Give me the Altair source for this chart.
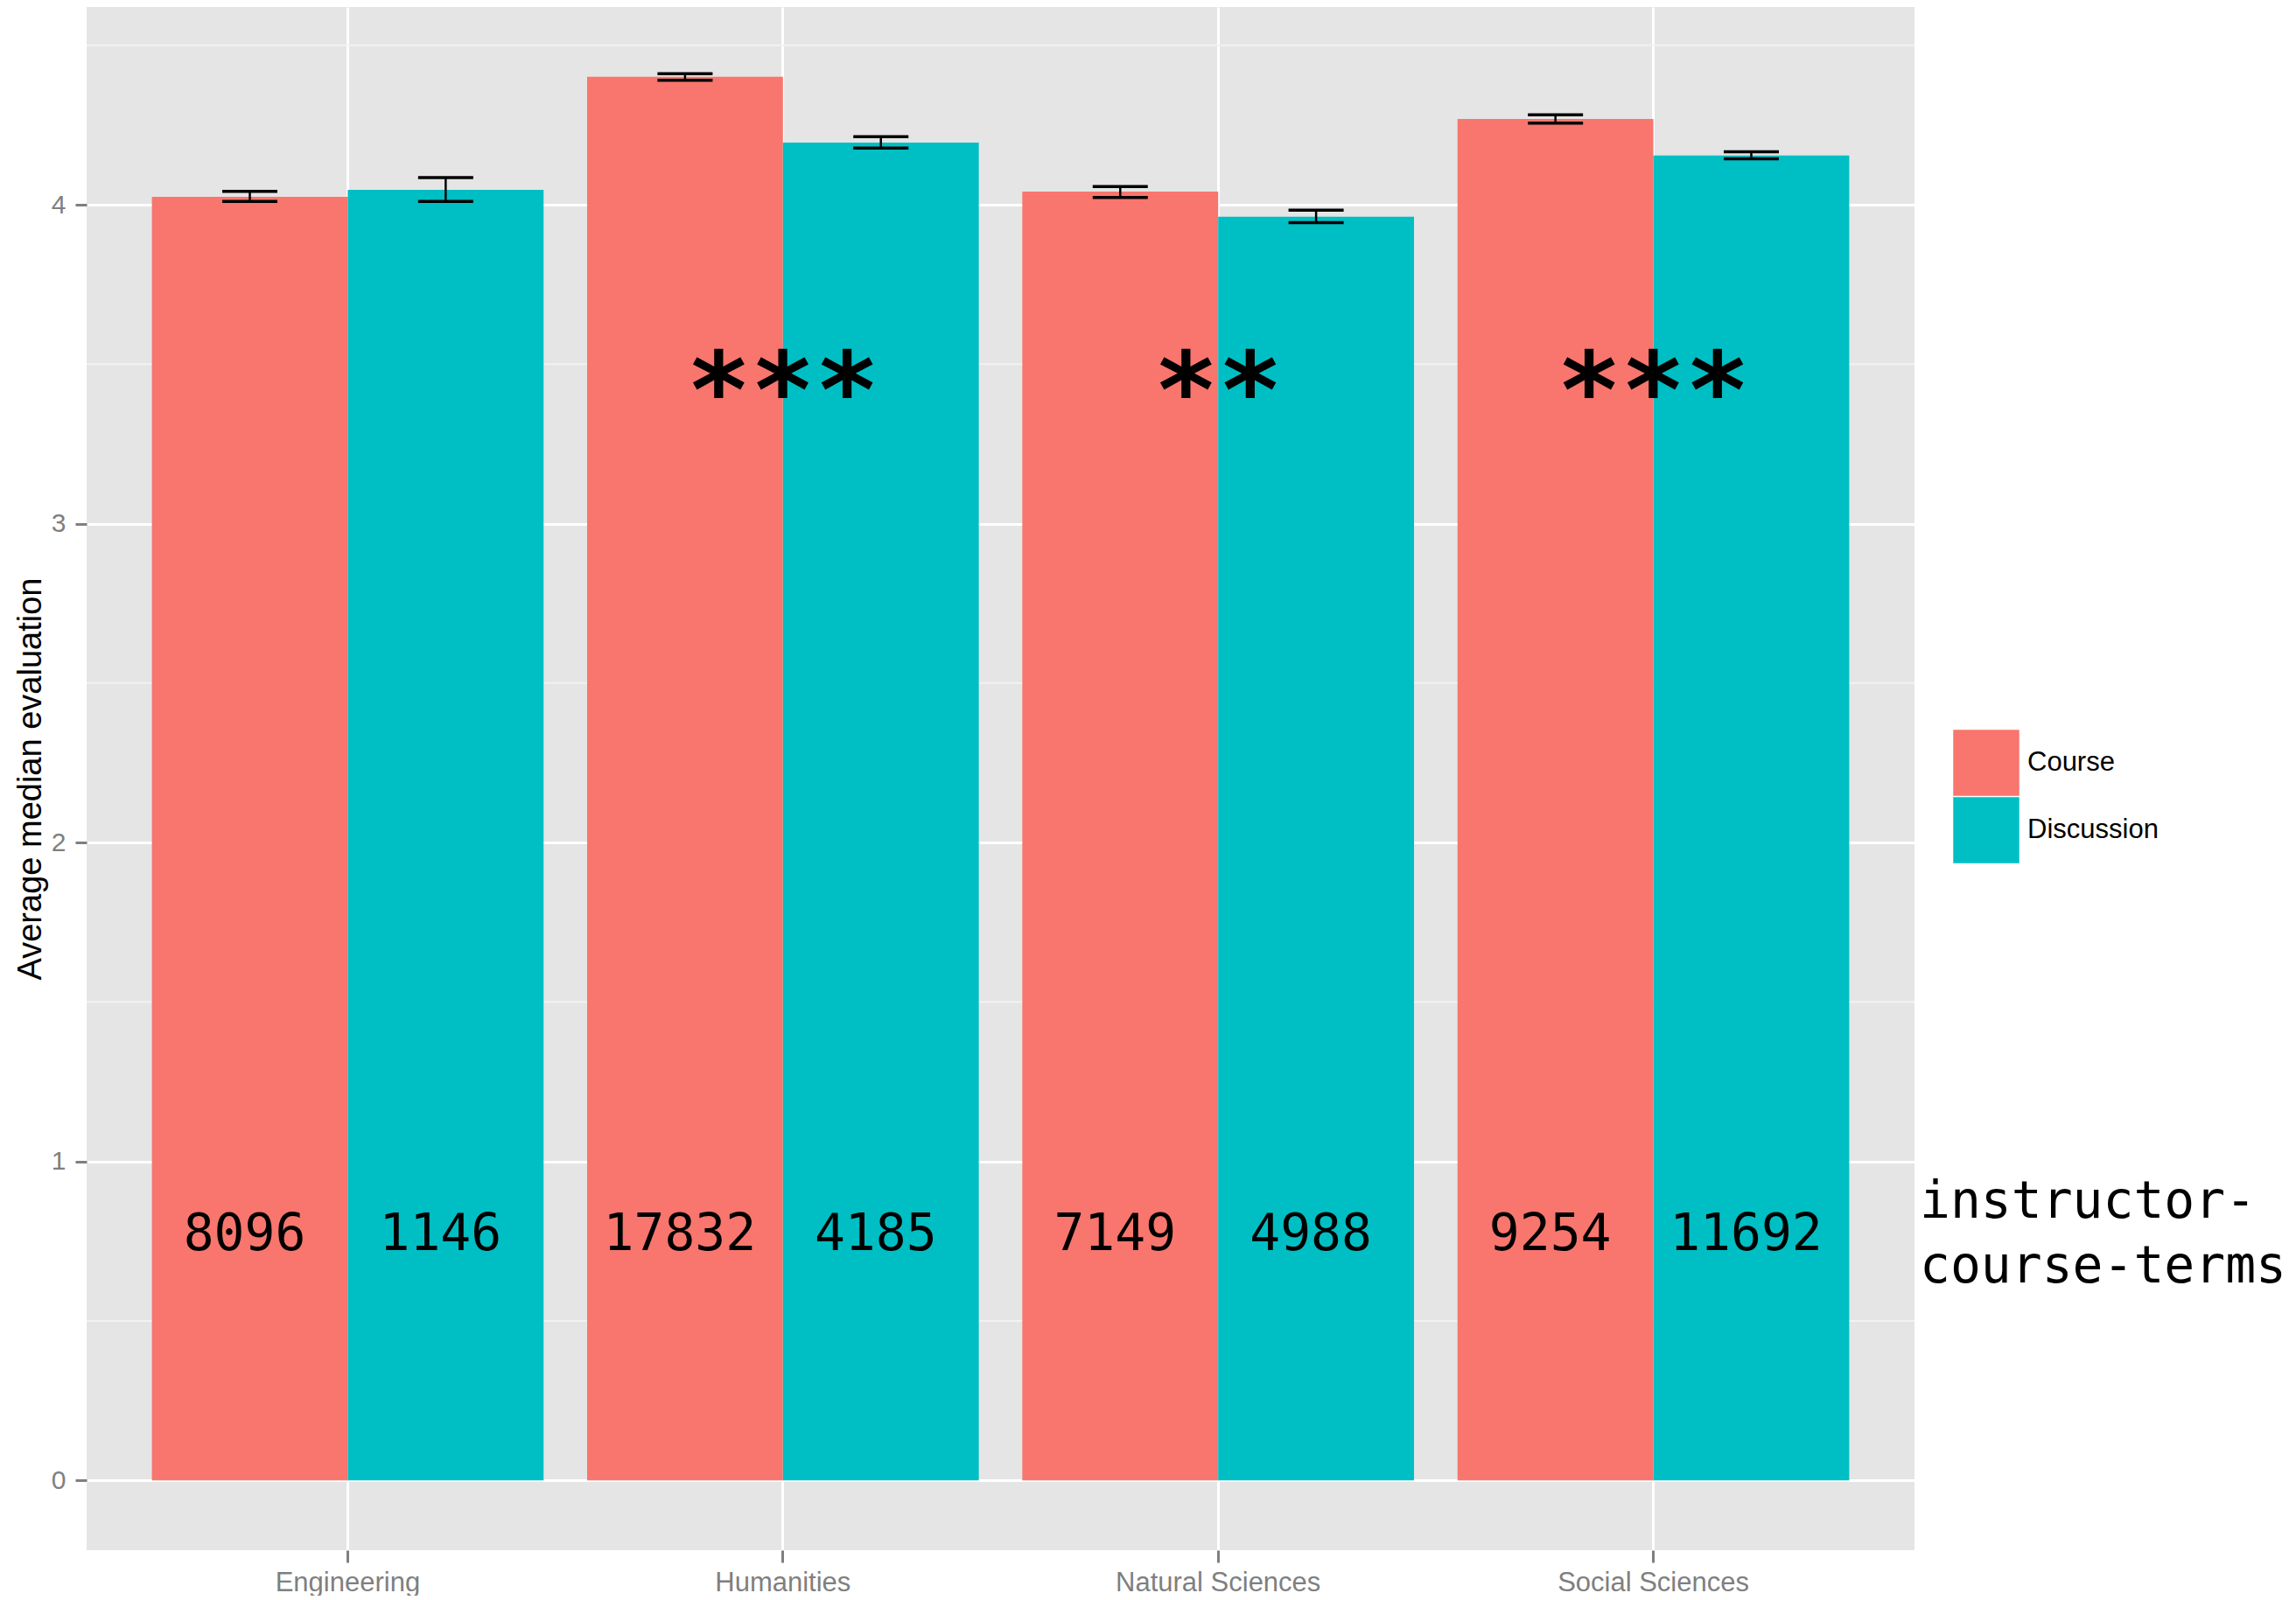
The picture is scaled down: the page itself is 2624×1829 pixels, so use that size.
import altair as alt
import pandas as pd

# ---- data ----
fields = ["Engineering", "Humanities", "Natural Sciences", "Social Sciences"]
types = ["Course", "Discussion"]

course_mean = [4.025, 4.401, 4.041, 4.269]
course_lo = [4.010, 4.390, 4.023, 4.256]
course_hi = [4.042, 4.411, 4.057, 4.282]

disc_mean = [4.047, 4.195, 3.962, 4.154]
disc_lo = [4.010, 4.178, 3.944, 4.144]
disc_hi = [4.085, 4.213, 3.983, 4.166]

course_n = [8096, 17832, 7149, 9254]
disc_n = [1146, 4185, 4988, 11692]

stars = ["", "***", "**", "***"]
minor_breaks = [0.5, 1.5, 2.5, 3.5, 4.5]
y_ticks = [0, 1, 2, 3, 4]
side_note = "instructor-\ncourse-terms"

colors = ["#F8766D", "#00BFC4"]

rows = []
for i, f in enumerate(fields):
    rows.append(dict(Field=f, Type="Course", mean=course_mean[i], lo=course_lo[i],
                     hi=course_hi[i], n=str(course_n[i])))
    rows.append(dict(Field=f, Type="Discussion", mean=disc_mean[i], lo=disc_lo[i],
                     hi=disc_hi[i], n=str(disc_n[i])))
df = pd.DataFrame(rows)
star_df = pd.DataFrame({"Field": fields, "stars": stars})
minor_df = pd.DataFrame({"v": minor_breaks})
note_df = pd.DataFrame({"t": [side_note]})

W, H = 2089, 1764
ydom = [-0.219, 4.620]

xscale = alt.Scale(domain=fields, paddingInner=0.1, paddingOuter=0.15)
yscale = alt.Scale(domain=ydom, nice=False, zero=False)
offscale = alt.Scale(domain=types)

x_enc = alt.X("Field:N", scale=xscale, sort=fields,
              axis=alt.Axis(title=None, labelAngle=0, labelFontSize=31, labelPadding=8,
                            labelLimit=0, tickSize=14, tickWidth=3, grid=True,
                            gridColor="white", gridWidth=3))
y_axis = alt.Axis(title="Average median evaluation", values=y_ticks, format="d",
                  labelFontSize=30, labelPadding=11, tickSize=13, tickWidth=3,
                  titleFontSize=38, titleColor="black", titleFontWeight="normal",
                  titleFont="Liberation Sans", titlePadding=4,
                  grid=True, gridColor="white", gridWidth=3)

minor = alt.Chart(minor_df).mark_rule(color="#F2F2F2", strokeWidth=2).encode(
    y=alt.Y("v:Q", scale=yscale, axis=y_axis)
)

base = alt.Chart(df).encode(
    x=x_enc,
    xOffset=alt.XOffset("Type:N", scale=offscale, sort=types),
)

bars = base.mark_bar().encode(
    y=alt.Y("mean:Q", scale=yscale),
    color=alt.Color("Type:N", scale=alt.Scale(domain=types, range=colors),
                    legend=alt.Legend(title=None, orient="none", legendX=2133, legendY=826,
                                      symbolType="square", symbolSize=5700,
                                      symbolStrokeWidth=0, rowPadding=1,
                                      labelFontSize=31, labelFont="Liberation Sans",
                                      labelColor="black", labelOffset=9, padding=0)),
)

stems = base.mark_rule(color="black", strokeWidth=2.5).encode(
    y=alt.Y("lo:Q", scale=yscale), y2="hi:Q"
)
caps = base.transform_fold(["lo", "hi"], as_=["end", "val"]).mark_tick(
    color="black", size=63, thickness=3.5, opacity=1
).encode(y=alt.Y("val:Q", scale=yscale))

counts = base.mark_text(font="DejaVu Sans Mono", fontSize=58, color="black",
                        align="center", baseline="alphabetic", dx=-6).encode(
    y=alt.datum(0.7215), text="n:N"
)

star_text = alt.Chart(star_df).mark_text(font="DejaVu Sans Mono", fontSize=122,
                                         fontWeight="bold",
                                         color="black", align="center",
                                         baseline="alphabetic").encode(
    x=alt.X("Field:N", scale=xscale, sort=fields),
    y=alt.datum(3.30),
    text="stars:N",
)

note = alt.Chart(note_df).mark_text(font="DejaVu Sans Mono", fontSize=58, color="black",
                                    align="left", baseline="alphabetic", lineBreak="\n",
                                    lineHeight=74, dy=-37).encode(
    x=alt.value(W + 6), y=alt.datum(0.7215), text="t:N"
)

chart = alt.layer(minor, bars, stems, caps, counts, star_text, note).properties(
    width=W, height=H,
    padding={"left": 8, "top": 0, "right": 0, "bottom": 0},
).configure_view(fill="#E5E5E5", strokeWidth=0).configure_axis(
    domain=False, labelColor="#7F7F7F", tickColor="#7F7F7F",
    labelFont="Liberation Sans",
).configure_scale(offsetBandPaddingInner=0, offsetBandPaddingOuter=0)

chart.save("out.html", embed_options={"renderer": "svg", "actions": False})
